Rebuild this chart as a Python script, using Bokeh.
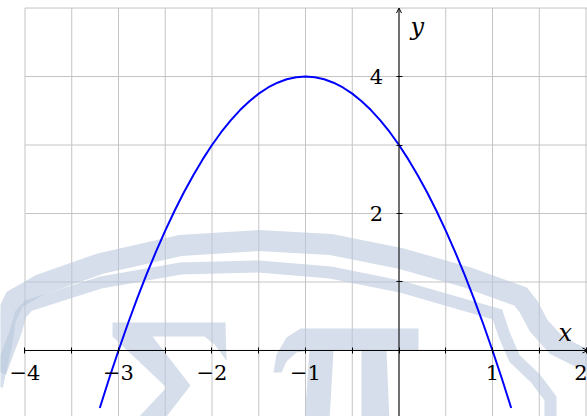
from bokeh.plotting import figure
from bokeh.models import Range1d, LinearAxis, FixedTicker, Arrow, OpenHead, Label
from bokeh.embed import file_html
from bokeh.resources import INLINE

# Sampled points of the plotted parabola
curve_x = [-3.2, -3.1, -3.0, -2.9, -2.8, -2.7, -2.6, -2.5, -2.4, -2.3, -2.2, -2.1,
           -2.0, -1.9, -1.8, -1.7, -1.6, -1.5, -1.4, -1.3, -1.2, -1.1, -1.0,
           -0.9, -0.8, -0.7, -0.6, -0.5, -0.4, -0.3, -0.2, -0.1, 0.0, 0.1, 0.2,
           0.3, 0.4, 0.5, 0.6, 0.7, 0.8, 0.9, 1.0, 1.1, 1.2]
curve_y = [-0.84, -0.41, 0.0, 0.39, 0.76, 1.11, 1.44, 1.75, 2.04, 2.31, 2.56, 2.79,
           3.0, 3.19, 3.36, 3.51, 3.64, 3.75, 3.84, 3.91, 3.96, 3.99, 4.0,
           3.99, 3.96, 3.91, 3.84, 3.75, 3.64, 3.51, 3.36, 3.19, 3.0, 2.79, 2.56,
           2.31, 2.04, 1.75, 1.44, 1.11, 0.76, 0.39, 0.0, -0.41, -0.84]

# Axis ticks and labels
x_major_ticks = [-4, -3, -2, -1, 1, 2]
x_minor_ticks = [-3.5, -2.5, -1.5, -0.5, 0, 0.5, 1.5]
x_tick_labels = {-4: "\u22124", -3: "\u22123", -2: "\u22122", -1: "\u22121", 1: "1", 2: "2"}
y_major_ticks = [2, 4]
y_minor_ticks = [1, 3]

# Grid lines
grid_x = [-4, -3.5, -3, -2.5, -2, -1.5, -1, -0.5, 0, 0.5, 1, 1.5, 2]
grid_y = [0, 1, 2, 3, 4, 5]

X_MIN, X_MAX = -4.262, 2.016
Y_MIN, Y_MAX = -0.964, 5.11
W, H = 587, 416

p = figure(width=W, height=H, output_backend="svg", toolbar_location=None,
           x_range=Range1d(X_MIN, X_MAX), y_range=Range1d(Y_MIN, Y_MAX),
           x_axis_type=None, y_axis_type=None, min_border=0,
           background_fill_color="white", border_fill_color="white",
           outline_line_color=None)
p.xgrid.visible = False
p.ygrid.visible = False


def canvas(pts):
    """Map canvas pixel positions (origin top-left) into data space."""
    xs = [X_MIN + (px / W) * (X_MAX - X_MIN) for px, _ in pts]
    ys = [Y_MAX - (py / H) * (Y_MAX - Y_MIN) for _, py in pts]
    return xs, ys


# grid
p.multi_line(xs=[[g, g] for g in grid_x], ys=[[Y_MIN - 1, 5] for _ in grid_x],
             line_color="#c4c4c4", line_width=1)
p.multi_line(xs=[[-4, X_MAX + 1] for _ in grid_y], ys=[[g, g] for g in grid_y],
             line_color="#c4c4c4", line_width=1)

# faint emblem in the background
emblem_fill = "#b9c8dc"
emblem_alpha = 0.6
outer_band = canvas([(-8, 385), (1, 345), (5, 318), (14, 299), (40, 284), (100, 263),
                     (180, 245), (258, 240), (330, 244), (400, 258), (467, 277),
                     (520, 296), (528, 306), (538, 325), (556, 345), (578, 356), (600, 360)])
inner_band = canvas([(0, 372), (8, 350), (15, 332), (20, 314), (28, 305), (100, 282),
                     (180, 268), (258, 266), (330, 272), (400, 286), (497, 314),
                     (504, 335), (514, 358), (535, 378), (550, 398), (550, 425)])
p.line(*outer_band, line_color=emblem_fill, line_alpha=emblem_alpha, line_width=21,
       line_join="miter")
p.line(*inner_band, line_color=emblem_fill, line_alpha=emblem_alpha, line_width=12,
       line_join="miter")
sigma = canvas([(112, 322), (225, 322), (226, 360), (214, 344), (204, 336), (152, 336),
                (190, 385), (163, 420), (135, 420), (166, 387), (112, 336)])
pi = canvas([(273, 372), (276, 354), (286, 337), (300, 328), (418, 328), (418, 350),
             (386, 350), (389, 420), (361, 420), (361, 350), (333, 350), (329, 420),
             (304, 420), (309, 350), (296, 352), (286, 361), (281, 372)])
p.patch(*sigma, fill_color=emblem_fill, fill_alpha=emblem_alpha, line_color=None)
p.patch(*pi, fill_color=emblem_fill, fill_alpha=emblem_alpha, line_color=None)

# the curve
p.line(curve_x, curve_y, line_color="#0000ff", line_width=2)

# axes through the origin
label_font = "DejaVu Serif"
xaxis = LinearAxis(ticker=FixedTicker(ticks=x_major_ticks, minor_ticks=x_minor_ticks),
                   fixed_location=0, axis_line_color=None,
                   major_tick_in=3, major_tick_out=3, minor_tick_in=3, minor_tick_out=3,
                   major_tick_line_color="black", minor_tick_line_color="black",
                   major_label_overrides=x_tick_labels,
                   major_label_text_font=label_font, major_label_text_font_size="21px",
                   major_label_text_color="black", major_label_standoff=12)
yaxis = LinearAxis(ticker=FixedTicker(ticks=y_major_ticks, minor_ticks=y_minor_ticks),
                   fixed_location=0, axis_line_color=None,
                   major_tick_in=3, major_tick_out=3, minor_tick_in=3, minor_tick_out=3,
                   major_tick_line_color="black", minor_tick_line_color="black",
                   major_label_text_font=label_font, major_label_text_font_size="21px",
                   major_label_text_color="black", major_label_standoff=13)
p.add_layout(xaxis, "below")
p.add_layout(yaxis, "left")

p.add_layout(Arrow(end=OpenHead(size=5, line_width=1, line_color="black"),
                   x_start=-4, y_start=0, x_end=X_MAX, y_end=0,
                   line_color="black", line_width=1))
p.add_layout(Arrow(end=OpenHead(size=5, line_width=1, line_color="black"),
                   x_start=0, y_start=Y_MIN - 1, x_end=0, y_end=5,
                   line_color="black", line_width=1))

p.add_layout(Label(x=1.706, y=0.26, text="x", text_font=label_font,
                   text_font_style="italic", text_font_size="24px",
                   text_align="left", text_baseline="alphabetic", text_color="black"))
p.add_layout(Label(x=0.123, y=4.72, text="y", text_font=label_font,
                   text_font_style="italic", text_font_size="24px",
                   text_align="left", text_baseline="alphabetic", text_color="black"))

open("out.html", "w").write(file_html(p, INLINE))
